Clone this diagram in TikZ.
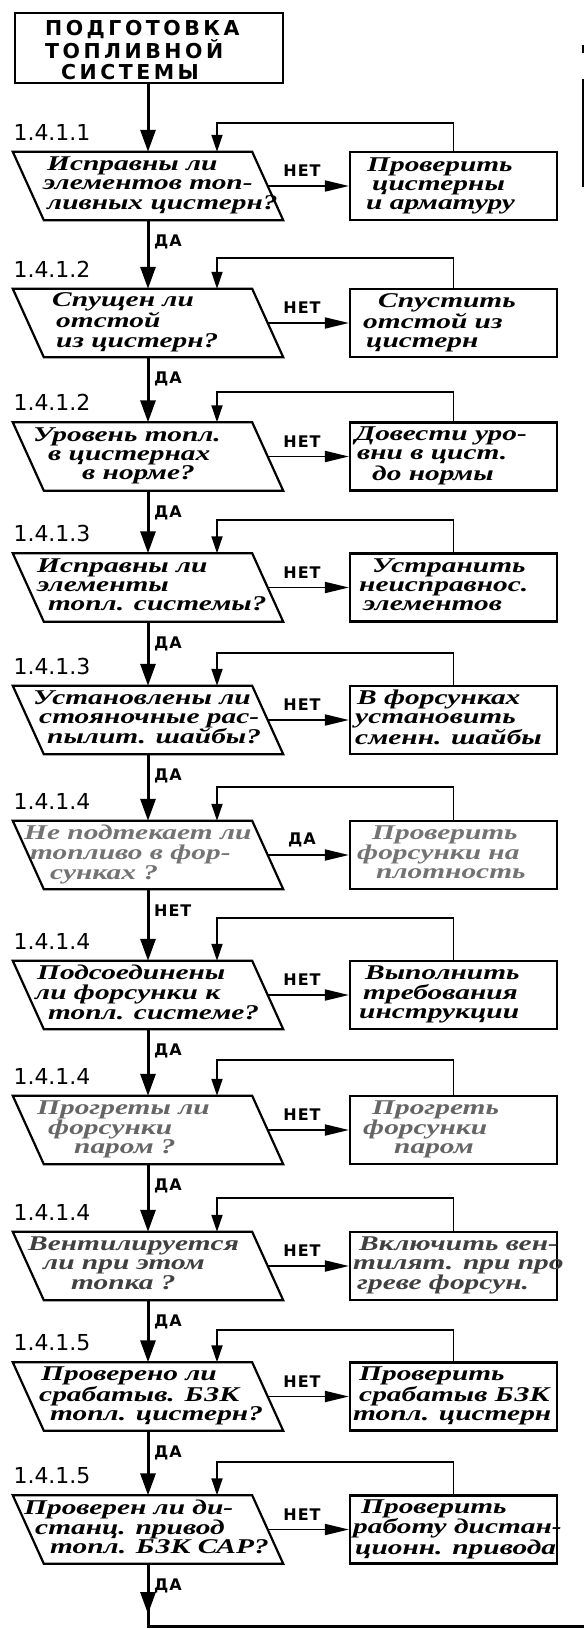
\documentclass[tikz,border=0pt]{standalone}
\usepackage{fontspec}
\usepackage{graphicx}
\setmainfont{Liberation Serif}
\newfontfamily\handfont{Liberation Serif}
\newfontfamily\labfont{DejaVu Sans}[LetterSpace=6]
\newfontfamily\numfont{DejaVu Sans}
\newfontfamily\ttlfont{DejaVu Sans}[LetterSpace=17]
\usetikzlibrary{arrows.meta}
\newcommand\hwl[1]{\scalebox{1.4}[1]{\begin{tabular}{@{}l@{}}#1\end{tabular}}}
\newcommand\ind[1]{\hspace*{\dimexpr #1pt*5/7\relax}}
\tikzset{
  pbox/.style={rectangle, minimum width=270pt, minimum height=68pt, inner sep=0pt},
  pline/.style={line width=2.2pt, line join=miter},
  bx/.style={rectangle, draw, line width=2.2pt, minimum width=207pt,
    minimum height=68pt, inner sep=0pt},
  ttlbox/.style={rectangle, draw, line width=2.5pt, minimum width=268pt,
    minimum height=70pt, inner sep=0pt},
  ttltxt/.style={font=\ttlfont\bfseries\fontsize{20.5}{20.5}\selectfont, align=left, inner sep=0pt},
  ptxt/.style={font=\handfont\bfseries\itshape\fontsize{21}{19}\selectfont, inner sep=0pt, anchor=west},
  numlab/.style={font=\numfont\fontsize{22}{22}\selectfont, inner sep=0pt},
  yn/.style={font=\labfont\bfseries\fontsize{16}{16}\selectfont, inner sep=0pt},
  mainln/.style={line width=3pt, -{Triangle[length=22pt,width=15pt]}},
  mainplain/.style={line width=3pt},
  loopln/.style={line width=1.8pt, -{Triangle[length=17pt,width=11pt]}},
  sideln/.style={line width=1.8pt, -{Triangle[length=24pt,width=11pt]}},
  scanmark/.style={line width=2pt},
}
\def\SideLab{НЕТ}
\def\DownLab{ДА}
% #1 id, #2 centre y, #3 number, #4 question x, #5 question, #6 action x,
% #7 action, #8 loop y, #9 text colour
\newcommand\FlowRow[9]{%
  \node[pbox] (P#1) at (148,#2) {};
  \draw[pline] (P#1.north west) -- ([xshift=-31pt]P#1.north east)
     -- (P#1.south east) -- ([xshift=31pt]P#1.south west) -- cycle;
  \node[ptxt, text=#9] (P#1t) at (#4,#2) {\hwl{#5}};
  \node[bx] (B#1) at (453.5,#2) {};
  \node[ptxt, text=#9] (B#1t) at (#6,#2) {\hwl{#7}};
  \node[numlab] (N#1) at (52,#2-54) {#3};
  \node[yn] (S#1) at (302,#2-15) {\SideLab};
  \node[yn, anchor=west] (D#1) at (154,#2+56) {\DownLab};
  \coordinate (L#1) at (217,#8);
  \draw[sideln] ([xshift=-15.5pt]P#1.east) -- (B#1);
  \draw[loopln] (B#1.north) |- (L#1) -- (L#1 |- P#1.north);
}
\begin{document}
\begin{tikzpicture}[x=1pt,y=-1pt]
\useasboundingbox (0,0) rectangle (584,1629);
\fill[white] (0,0) rectangle (584,1629);

\node[ttlbox] (top) at (149,48) {};
\node[ttltxt, anchor=west] (toptxt) at (45,50) {ПОДГОТОВКА\\ТОПЛИВНОЙ\\\hspace*{16pt}СИСТЕМЫ};

% scan marks at the right edge
\draw[scanmark] (583,45) -- (583,53);
\draw[scanmark] (583,79) -- (583,187);

\FlowRow{1}{186}{1.4.1.1}{43}{\ind{4}Исправны ли\\элементов топ-\\\ind{4}ливных цистерн?}
  {358}{\ind{9}Проверить\\\ind{14}цистерны\\\ind{8}и арматуру}{123}{black}
\FlowRow{2}{323}{1.4.1.2}{52}{Спущен ли\\\ind{4}отстой\\\ind{4}из цистерн?}
  {358}{\ind{20}Спустить\\\ind{5}отстой из\\\ind{8}цистерн}{258}{black}
\FlowRow{3}{456.5}{1.4.1.2}{33}{Уровень топл.\\\ind{15}в цистернах\\\ind{49}в норме?}
  {355}{Довести уро-\\\ind{2}вни в цист.\\\ind{17}до нормы}{392}{black}
\FlowRow{4}{587.5}{1.4.1.3}{37}{Исправны ли\\элементы\\\ind{11}топл. системы?}
  {355}{\ind{17}Устранить\\\ind{4}неисправнос.\\\ind{8}элементов}{520}{black}
\FlowRow{5}{720}{1.4.1.3}{33}{Установлены ли\\\ind{6}стояночные рас-\\\ind{14}пылит. шайбы?}
  {355}{\ind{2}В форсунках\\установить\\сменн. шайбы}{653}{black}
\def\SideLab{ДА}\def\DownLab{НЕТ}
\FlowRow{6}{855}{1.4.1.4}{24}{Не подтекает ли\\\ind{6}топливо в фор-\\\ind{26}сунках ?}
  {355}{\ind{17}Проверить\\\ind{2}форсунки на\\\ind{21}плотность}{787}{black!55}
\def\SideLab{НЕТ}\def\DownLab{ДА}
\FlowRow{7}{995}{1.4.1.4}{35}{\ind{2}Подсоединены\\ли форсунки к\\\ind{13}топл. системе?}
  {357}{\ind{8}Выполнить\\\ind{6}требования\\\ind{2}инструкции}{918}{black}
\FlowRow{8}{1130}{1.4.1.4}{37}{Прогреты ли\\\ind{11}форсунки\\\ind{37}паром ?}
  {361}{\ind{11}Прогреть\\\ind{2}форсунки\\\ind{33}паром}{1060}{black!60}
\FlowRow{9}{1266}{1.4.1.4}{28}{Вентилируется\\\ind{15}ли при этом\\\ind{43}топка ?}
  {353}{\ind{6}Включить вен-\\тилят. при про\\\ind{4}греве форсун.}{1198}{black!75}
\FlowRow{10}{1396.5}{1.4.1.5}{39}{\ind{2}Проверено ли\\срабатыв. БЗК\\\ind{11}топл. цистерн?}
  {353}{\ind{6}Проверить\\\ind{6}срабатыв БЗК\\топл. цистерн}{1330}{black}
\FlowRow{11}{1529.5}{1.4.1.5}{24}{Проверен ли ди-\\\ind{11}станц. привод\\\ind{26}топл. БЗК САР?}
  {353}{\ind{8}Проверить\\работу дистан-\\\ind{2}ционн. привода}{1462}{black}

\draw[mainln] (top.south -| P1) -- (P1);
\draw[mainln] (P1) -- (P2);
\draw[mainln] (P2) -- (P3);
\draw[mainln] (P3) -- (P4);
\draw[mainln] (P4) -- (P5);
\draw[mainln] (P5) -- (P6);
\draw[mainln] (P6) -- (P7);
\draw[mainln] (P7) -- (P8);
\draw[mainln] (P8) -- (P9);
\draw[mainln] (P9) -- (P10);
\draw[mainln] (P10) -- (P11);

\coordinate (endA) at (148,1614);
\coordinate (endR) at (584,1626);
\draw[mainplain] (P11) |- (endR);
\draw[mainln] (P11) -- (endA);
\end{tikzpicture}
\end{document}
